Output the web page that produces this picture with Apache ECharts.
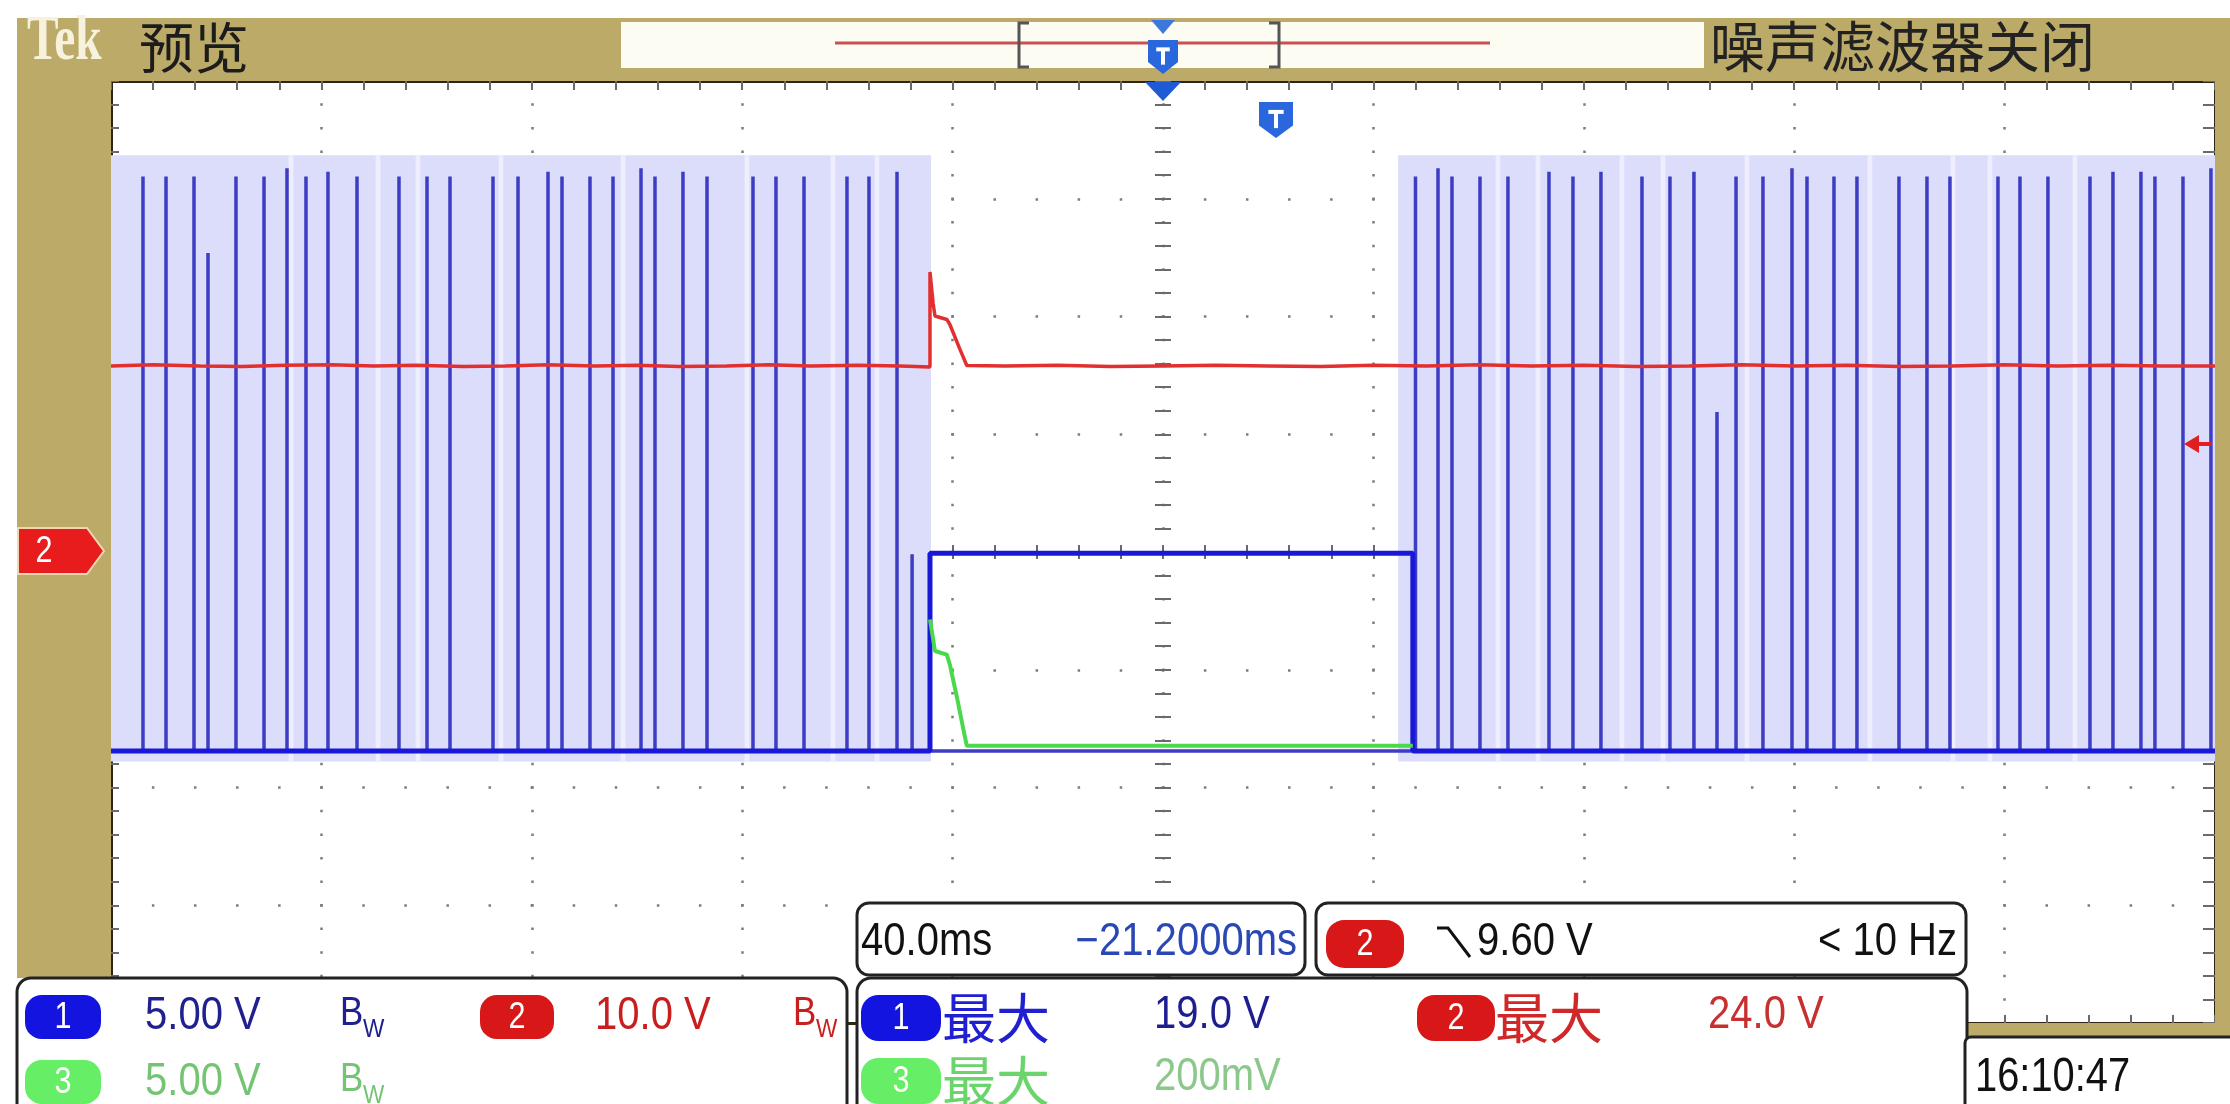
<!DOCTYPE html>
<html><head><meta charset="utf-8">
<script src="https://cdn.jsdelivr.net/npm/echarts/dist/echarts.min.js"></script>
<style>html,body{margin:0;padding:0;background:#fff;overflow:hidden}#c{width:2230px;height:1104px}</style>
</head><body><div id="c"></div><script>
// ---- time axis (ms across 10 divisions of 40 ms) and vertical divisions ----
const xMinMs = 0, xMaxMs = 400, msPerDiv = 40;
const yMinDiv = 0, yMaxDiv = 8;

// ---- channel 1 (blue): pulse train ----
const pulseTimesMs = [6.08,10.46,15.78,18.44,23.76,29.09,33.46,37.07,41.25,46.77,
  54.75,60.08,64.45,72.62,77.38,83.08,85.74,91.06,95.44,100.76,
  103.42,108.74,113.31,122.05,126.42,131.75,139.92,144.10,149.43,152.3,
  248.0,252.28,254.94,260.26,265.58,273.38,277.94,283.26,291.06,296.38,
  300.94,305.32,308.94,314.06,319.58,322.43,327.56,331.93,339.92,345.24,
  349.61,358.74,362.92,368.24,376.23,380.60,385.92,388.58,393.91,399.23];
const pulseTopsDiv = [7.19,7.19,7.19,6.54,7.19,7.19,7.26,7.19,7.23,7.19,
  7.19,7.19,7.19,7.19,7.19,7.23,7.19,7.19,7.19,7.26,
  7.19,7.23,7.19,7.19,7.19,7.19,7.19,7.19,7.23,3.98,
  7.19,7.26,7.19,7.19,7.19,7.23,7.19,7.23,7.19,7.19,
  7.23,5.19,7.19,7.19,7.26,7.19,7.19,7.19,7.19,7.19,
  7.19,7.19,7.19,7.19,7.19,7.23,7.23,7.19,7.19,7.26];
const blueLowDiv = 2.31, blueHighDiv = 3.99;
const gateTimesMs = [0, 155.7, 155.7, 247.5, 247.5, 400];
const gateLevelsDiv = [2.31, 2.31, 3.99, 3.99, 2.31, 2.31];

// persistence (lavender) envelope
const persistBandsMs = [[0, 155.9], [244.7, 400]];
const persistLowDiv = 2.22, persistHighDiv = 7.37;
const persistGapsMs = [34.22,50.76,58.36,74.14,97.34,120.91,137.26,145.62,
  263.68,271.29,287.26,295.05,311.02,334.40,350.18,357.22,373.38];

// ---- channel 2 (red) ----
const redTimesMs = [0,8,17,25,33,42,50,58,67,75,83,92,100,108,117,125,133,142,150,155.7,
  155.7,156.3,156.65,158.9,159.5,161.4,162.7,
  170,180,190,200,210,220,230,240,250,260,270,280,290,300,310,320,330,340,350,360,370,380,390,400];
const redDiv = [5.58,5.59,5.58,5.575,5.585,5.59,5.58,5.585,5.575,5.58,5.59,5.58,5.585,5.575,5.58,5.59,5.58,5.585,5.58,5.571,
  6.378,6.109,6.004,5.975,5.930,5.721,5.584,
  5.58,5.585,5.575,5.58,5.585,5.58,5.575,5.585,5.58,5.59,5.58,5.585,5.575,5.58,5.59,5.58,5.585,5.575,5.58,5.59,5.58,5.585,5.58,5.58];

// ---- channel 3 (green) ----
const greenTimesMs = [155.7,156.65,158.9,159.5,160.8,162.0,162.7,247.5];
const greenDiv = [3.427,3.159,3.129,3.04,2.771,2.505,2.354,2.354];

// ---- readouts ----
const titleTek = 'Tek', titlePreview = '预览', noiseFilterText = '噪声滤波器关闭';
const timebaseText = '40.0ms', positionText = '−21.2000ms';
const trigChannel = '2', trigLevelText = '9.60 V', trigFreqText = '< 10 Hz';
const chLabels = ['1', '2', '3'];
const chScales = ['5.00 V', '10.0 V', '5.00 V'];
const bwText = ['B', 'W'];
const measLabel = '最大';
const measValues = ['19.0 V', '24.0 V', '200mV'];
const clockText = '16:10:47';

// ---- build series data ----
const pulseData = [];
pulseTimesMs.forEach((t, i) => { pulseData.push([t, blueLowDiv], [t, pulseTopsDiv[i]], [t, blueLowDiv]); });
const gateData = gateTimesMs.map((t, i) => [t, gateLevelsDiv[i]]);
const redData = redTimesMs.map((t, i) => [t, redDiv[i]]);
const greenData = greenTimesMs.map((t, i) => [t, greenDiv[i]]);
const markAreas = persistBandsMs.map(b => [{xAxis: b[0], yAxis: persistLowDiv, itemStyle: {color: '#dcdcfb'}}, {xAxis: b[1], yAxis: persistHighDiv}])
  .concat(persistGapsMs.map(g => [{xAxis: g - 0.45, yAxis: persistLowDiv, itemStyle: {color: '#eeeefe'}}, {xAxis: g + 0.45, yAxis: persistHighDiv}]));

// ---- layout ----
const G = {left: 111, top: 81, width: 2104, height: 942};
const OLIVE = '#bcab68', FRAME = '#2e2612', TICK = '#6a6a6a', DOT = '#7c7c7c';
const FONT = '"Liberation Sans", Arial, sans-serif';
const CJK = '"Noto Sans CJK SC", sans-serif';

function txt(x, y, s, size, fill, opt) {
  opt = opt || {};
  const align = opt.align || 'left';
  return {type: 'text', x: x, y: y, z: opt.z || 110, scaleX: opt.sx || 1, silent: true,
    style: {text: s, font: (opt.weight || 'normal') + ' ' + size + 'px ' + (opt.family || FONT), fill: fill,
      align: align, textAlign: align, verticalAlign: 'middle', textVerticalAlign: 'middle'}};
}
function rect(x, y, w, h, fill, stroke, lw, r, z) {
  return {type: 'rect', z: z || 1, silent: true, shape: {x: x, y: y, width: w, height: h, r: r || 0},
    style: {fill: fill, stroke: stroke || null, lineWidth: lw || 0}};
}
function badge(cx, cy, w, h, color, label) {
  return [rect(cx - w / 2, cy - h / 2, w, h, color, null, 0, h * 0.38, 105),
    txt(cx, cy + 1, label, 36, '#ffffff', {align: 'center', sx: 0.85, z: 106})];
}
function shield(cx, cy, w, h, color) {
  const hw = w / 2, hh = h / 2;
  return [{type: 'polygon', z: 60, silent: true, shape: {points: [[cx - hw, cy - hh], [cx + hw, cy - hh], [cx + hw, cy + hh * 0.3], [cx, cy + hh], [cx - hw, cy + hh * 0.3]]}, style: {fill: color}},
    {type: 'polyline', z: 61, silent: true, shape: {points: [[cx - hw * 0.45, cy - hh * 0.45], [cx + hw * 0.45, cy - hh * 0.45]]}, style: {stroke: '#fff', lineWidth: 4, fill: null}},
    {type: 'polyline', z: 61, silent: true, shape: {points: [[cx, cy - hh * 0.45], [cx, cy + hh * 0.45]]}, style: {stroke: '#fff', lineWidth: 4, fill: null}}];
}

const SX = 0.87, FS = 46;
const graphics = [].concat(
  // olive frame
  [rect(17, 18, 2213, 63, OLIVE), rect(17, 81, 94, 897, OLIVE), rect(2215, 81, 15, 956, OLIVE), rect(1965, 1023, 250, 14, OLIVE)],
  // top bar
  [txt(27, 42, titleTek, 64, '#f6f2de', {weight: 'bold', family: '"Liberation Serif", serif', z: 5, sx: 0.74}),
   txt(139, 47, titlePreview, 55, '#1c1c1c', {family: CJK, z: 5}),
   rect(621, 22, 1083, 46, '#fdfcf3', null, 0, 0, 3),
   {type: 'line', z: 4, silent: true, shape: {x1: 835, y1: 43, x2: 1490, y2: 43}, style: {stroke: '#cc5050', lineWidth: 3}},
   {type: 'polyline', z: 4, silent: true, shape: {points: [[1029, 23], [1019, 23], [1019, 67], [1029, 67]]}, style: {stroke: '#555', lineWidth: 3, fill: null}},
   {type: 'polyline', z: 4, silent: true, shape: {points: [[1269, 23], [1279, 23], [1279, 67], [1269, 67]]}, style: {stroke: '#555', lineWidth: 3, fill: null}},
   {type: 'polygon', z: 5, silent: true, shape: {points: [[1151, 20], [1175, 20], [1163, 34]]}, style: {fill: '#3c78dc'}},
   txt(1710, 46, noiseFilterText, 55, '#222', {family: CJK, z: 5}),
   {type: 'polygon', z: 60, silent: true, shape: {points: [[1145, 82], [1181, 82], [1163, 101]]}, style: {fill: '#1f5ad6'}}],
  shield(1163, 57, 30, 34, '#2a66dc'),
  shield(1276, 120, 34, 36, '#2a66dc'),
  // channel 2 ground marker & trigger level marker
  [{type: 'polygon', z: 60, silent: true, shape: {points: [[18, 528], [87, 528], [104, 551], [87, 574], [18, 574]]}, style: {fill: '#e81c1c', stroke: '#f3d6b0', lineWidth: 2}},
   txt(44, 552, '2', 36, '#fff', {align: 'center', sx: 0.85, z: 61}),
   {type: 'polygon', z: 60, silent: true, shape: {points: [[2184, 444], [2199, 435], [2199, 453]]}, style: {fill: '#e02020'}},
   {type: 'line', z: 60, silent: true, shape: {x1: 2196, y1: 444, x2: 2212, y2: 444}, style: {stroke: '#e02020', lineWidth: 4}}],
  // timebase box
  [rect(857, 903, 448, 72, '#fff', '#222', 3, 12, 100),
   txt(861, 942, timebaseText, FS, '#111', {sx: SX}),
   txt(1297, 942, positionText, FS, '#2a48b4', {sx: SX, align: 'right'}),
   rect(1316, 903, 650, 72, '#fff', '#222', 3, 12, 100)],
  badge(1365, 944, 78, 48, '#d81818', trigChannel),
  [{type: 'polyline', z: 110, silent: true, shape: {points: [[1437, 928], [1448, 928], [1470, 957]]}, style: {stroke: '#111', lineWidth: 3, fill: null}},
   txt(1477, 942, trigLevelText, FS, '#111', {sx: SX}),
   txt(1957, 942, trigFreqText, FS, '#111', {sx: SX, align: 'right'})],
  // channel box
  [rect(17, 978, 830, 150, '#fff', '#222', 3, 14, 100)],
  badge(63, 1017, 76, 44, '#1414e0', chLabels[0]),
  badge(517, 1017, 74, 44, '#d81818', chLabels[1]),
  badge(63, 1082, 76, 44, '#66ee66', chLabels[2]),
  [txt(145, 1016, chScales[0], FS, '#202090', {sx: SX}),
   txt(340, 1014, bwText[0], 40, '#202090', {sx: SX}), txt(363, 1030, bwText[1], 26, '#202090', {sx: SX}),
   txt(595, 1016, chScales[1], FS, '#c81e1e', {sx: SX}),
   txt(793, 1014, bwText[0], 40, '#c81e1e', {sx: SX}), txt(816, 1030, bwText[1], 26, '#c81e1e', {sx: SX}),
   txt(145, 1082, chScales[2], FS, '#74c474', {sx: SX}),
   txt(340, 1080, bwText[0], 40, '#74c474', {sx: SX}), txt(363, 1096, bwText[1], 26, '#74c474', {sx: SX})],
  // measurement box
  [rect(857, 978, 1110, 150, '#fff', '#222', 3, 14, 100)],
  badge(901, 1018, 80, 46, '#1414e0', chLabels[0]),
  badge(1456, 1018, 78, 46, '#d81818', chLabels[1]),
  badge(901, 1081, 80, 46, '#66ee66', chLabels[2]),
  [txt(942, 1018, measLabel, 54, '#2020d0', {family: CJK}),
   txt(1154, 1015, measValues[0], FS, '#1e1e90', {sx: SX}),
   txt(1495, 1018, measLabel, 54, '#d02828', {family: CJK}),
   txt(1708, 1015, measValues[1], FS, '#c83030', {sx: SX}),
   txt(942, 1081, measLabel, 54, '#6cd46c', {family: CJK}),
   txt(1154, 1077, measValues[2], FS, '#8cc88c', {sx: SX})],
  // clock
  [rect(1965, 1037, 290, 90, '#fff', '#222', 3, 6, 100),
   txt(1975, 1078, clockText, 48, '#111', {sx: 0.83})]
);

function axisBase(extra) {
  return Object.assign({type: 'value', gridIndex: 0, axisLabel: {show: false}, splitLine: {show: false},
    axisLine: {show: false, onZero: false}, axisTick: {show: false}}, extra);
}
const xAxes = [
  axisBase({min: xMinMs, max: xMaxMs, interval: msPerDiv, position: 'bottom',
    axisLine: {show: true, onZero: false, lineStyle: {color: FRAME, width: 3}},
    axisTick: {show: true, inside: true, length: 8, lineStyle: {color: TICK, width: 2}},
    minorTick: {show: true, splitNumber: 5, length: 8, lineStyle: {color: TICK, width: 2}},
    splitLine: {show: true, lineStyle: {color: DOT, width: 2.5, type: [2.5, 21.05], dashOffset: 1.2}}}),
  axisBase({min: xMinMs, max: xMaxMs, interval: msPerDiv, position: 'top',
    axisLine: {show: true, onZero: false, lineStyle: {color: FRAME, width: 3}},
    axisTick: {show: true, inside: true, length: 9, lineStyle: {color: TICK, width: 2}},
    minorTick: {show: true, splitNumber: 5, length: 9, lineStyle: {color: TICK, width: 2}}}),
  axisBase({min: xMinMs, max: xMaxMs, interval: msPerDiv / 5, position: 'bottom', offset: -G.height / 2,
    axisTick: {show: true, inside: true, length: 7, lineStyle: {color: TICK, width: 2}}}),
  axisBase({min: xMinMs, max: xMaxMs, interval: msPerDiv / 5, position: 'bottom', offset: -G.height / 2,
    axisTick: {show: true, inside: false, length: 7, lineStyle: {color: TICK, width: 2}}})
];
const yAxes = [
  axisBase({min: yMinDiv, max: yMaxDiv, interval: 1, position: 'left',
    axisLine: {show: true, onZero: false, lineStyle: {color: FRAME, width: 3}},
    axisTick: {show: true, inside: true, length: 8, lineStyle: {color: TICK, width: 2}},
    minorTick: {show: true, splitNumber: 5, length: 8, lineStyle: {color: TICK, width: 2}},
    splitLine: {show: true, lineStyle: {color: DOT, width: 2.5, type: [2.5, 39.58], dashOffset: 1.2}}}),
  axisBase({min: yMinDiv, max: yMaxDiv, interval: 1, position: 'right',
    axisLine: {show: true, onZero: false, lineStyle: {color: FRAME, width: 3}},
    axisTick: {show: true, inside: true, length: 12, lineStyle: {color: TICK, width: 2}},
    minorTick: {show: true, splitNumber: 5, length: 12, lineStyle: {color: TICK, width: 2}}}),
  axisBase({min: yMinDiv, max: yMaxDiv, interval: 0.2, position: 'left', offset: -G.width / 2,
    axisTick: {show: true, inside: true, length: 8, lineStyle: {color: TICK, width: 2}}}),
  axisBase({min: yMinDiv, max: yMaxDiv, interval: 0.2, position: 'left', offset: -G.width / 2,
    axisTick: {show: true, inside: false, length: 8, lineStyle: {color: TICK, width: 2}}})
];

function lineSeries(name, data, color, width, z, extra) {
  return Object.assign({name: name, type: 'line', xAxisIndex: 0, yAxisIndex: 0, data: data, symbol: 'none',
    silent: true, animation: false, z: z, clip: true, emphasis: {disabled: true},
    lineStyle: {color: color, width: width}}, extra || {});
}

const chart = echarts.init(document.getElementById('c'), null, {renderer: 'canvas'});
chart.setOption({
  backgroundColor: '#ffffff',
  animation: false,
  grid: {left: G.left, top: G.top, width: G.width, height: G.height, show: true, backgroundColor: '#ffffff', borderWidth: 0, containLabel: false, outerBoundsMode: 'none'},
  xAxis: xAxes,
  yAxis: yAxes,
  series: [
    lineSeries('CH1 pulses', pulseData, '#3c3cc4', 3.5, 3, {
      markArea: {silent: true, label: {show: false}, data: markAreas}}),
    lineSeries('CH1', gateData, '#1818d6', 5, 4),
    lineSeries('CH2', redData, '#e23030', 3.5, 5),
    lineSeries('CH3', greenData, '#4cd84c', 4, 6)
  ],
  graphic: graphics
});
</script></body></html>
